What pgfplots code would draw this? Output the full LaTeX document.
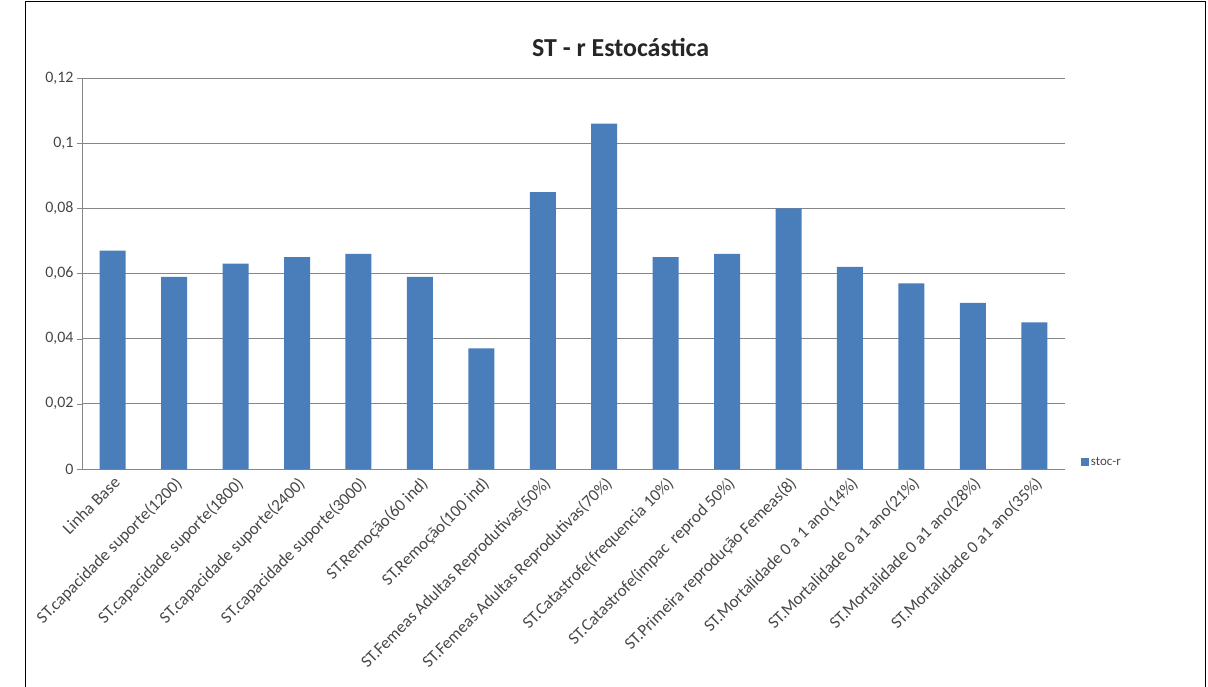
\documentclass[border=0pt]{standalone}
\usepackage{pgfplots}
\pgfplotsset{compat=1.18}
\usepackage{fontspec}
\setmainfont{Carlito}
\definecolor{barblue}{HTML}{4A7EBB}
\definecolor{gridgray}{HTML}{868686}
\begin{document}
\begin{tikzpicture}[x=1bp,y=1bp]
\begin{axis}[
  at={(0,0)}, anchor=south west,
  scale only axis, width=983bp, height=391bp,
  ymin=0, ymax=0.12, ytick={0,0.02,...,0.12},
  xmin=-0.5, xmax=15.5,
  xtick=data,
  xticklabels={Linha Base,ST.capacidade suporte(1200),ST.capacidade suporte(1800),ST.capacidade suporte(2400),ST.capacidade suporte(3000),ST.Remoção(60 ind),ST.Remoção(100 ind),ST.Femeas Adultas Reprodutivas(50\%),ST.Femeas Adultas Reprodutivas(70\%),ST.Catastrofe(frequencia 10\%),ST.Catastrofe(impac\ \ reprod 50\%),ST.Primeira reprodução Femeas(8),ST.Mortalidade 0 a 1 ano(14\%),ST.Mortalidade 0 a1 ano(21\%),ST.Mortalidade 0 a1 ano(28\%),ST.Mortalidade 0 a1 ano(35\%)},
  x tick label style={rotate=45, anchor=north east, font=\fontsize{17}{19}\selectfont, text=black!72, inner sep=1pt},
  y tick label style={font=\fontsize{16}{18}\selectfont, text=black!72},
  /pgf/number format/assume math mode=true,
  /pgf/number format/use comma,
  /pgf/number format/fixed,
  ymajorgrids, grid style={gridgray, line width=0.8pt},
  axis x line*=bottom, axis y line*=left,
  axis line style={gridgray, line width=0.8pt},
  ytick style={gridgray}, xtick style={draw=none},
  extra x ticks={-0.5,0.5,...,15.5}, extra x tick labels={},
  extra x tick style={major tick length=4pt, tick style={gridgray, draw=gridgray}, grid=none},
  tick align=outside, major tick length=5pt,
  ybar, bar width=26bp,
  legend style={at={(1.013,0.018)}, anchor=west, draw=none, font=\fontsize{13}{15}\selectfont, text=black!72, fill=none},
  legend image code/.code={\fill[barblue] (0bp,-4bp) rectangle (8bp,4bp);},
  title={\bfseries ST - r Estocástica},
  title style={font=\fontsize{26}{30}\selectfont, at={(0.548,1)}, yshift=12bp, anchor=south, text=black!85},
]
\addplot[fill=barblue, draw=none] coordinates {
(0,0.067) (1,0.059) (2,0.063) (3,0.065) (4,0.066) (5,0.059) (6,0.037) (7,0.085)
(8,0.106) (9,0.065) (10,0.066) (11,0.080) (12,0.062) (13,0.057) (14,0.051) (15,0.045)};
\addlegendentry{stoc-r}
\end{axis}
\path[use as bounding box] (-82bp,-218bp) rectangle (1126bp,469bp);
\draw[black, line width=1pt] (-57bp,-230bp) -- (-57bp,467bp) -- (1123bp,467bp) -- (1123bp,-230bp);
\end{tikzpicture}
\end{document}
